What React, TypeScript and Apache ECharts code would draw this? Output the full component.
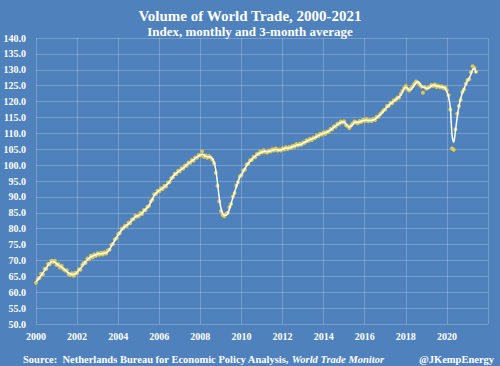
import React, { useEffect, useRef } from "react";
import * as echarts from "echarts";

const START_YEAR = 2000;

// Monthly index (yellow dots), Jan 2000 - Jun 2021
const monthlyIndex: number[] = [
  63.0, 64.2, 64.5, 65.8, 65.6, 67.4, 67.3, 68.9, 68.8, 69.9, 69.4, 69.9,
  68.6, 68.9, 67.8, 68.3, 67.2, 66.8, 66.9, 65.7, 65.4, 66.0, 65.2, 66.1,
  66.0, 67.2, 67.1, 68.6, 69.3, 69.2, 70.6, 70.4, 71.5, 71.0, 71.9, 71.5,
  72.3, 71.8, 72.4, 71.9, 72.6, 72.2, 73.2, 73.4, 74.9, 75.2, 76.6, 77.0,
  78.3, 78.6, 80.0, 80.1, 80.9, 80.8, 81.9, 81.7, 82.9, 83.0, 84.1, 83.8,
  84.0, 84.9, 84.6, 85.9, 85.8, 86.9, 87.1, 88.6, 89.1, 90.8, 90.9, 91.9,
  91.8, 92.7, 92.5, 93.5, 93.3, 94.5, 94.6, 95.9, 96.2, 97.3, 97.2, 98.2,
  98.1, 99.0, 98.9, 99.9, 99.8, 100.8, 100.7, 101.6, 101.4, 102.4, 102.3, 103.2,
  103.0, 104.3, 102.6, 103.1, 102.3, 102.9, 102.4, 101.7, 100.6, 97.6, 93.5, 88.6,
  85.5, 84.3, 83.9, 84.6, 85.0, 86.8, 87.8, 90.1, 91.2, 93.6, 94.6, 96.5,
  96.8, 98.3, 98.6, 100.2, 100.4, 101.5, 101.6, 102.6, 102.5, 103.5, 103.4, 104.3,
  104.0, 104.7, 104.1, 104.0, 104.6, 104.3, 105.0, 104.6, 105.2, 104.6, 104.9, 104.6,
  105.3, 104.9, 105.6, 105.1, 105.7, 105.4, 106.1, 105.8, 106.6, 106.2, 106.7, 106.4,
  107.1, 107.0, 107.8, 107.6, 108.3, 107.9, 108.7, 108.5, 109.3, 109.1, 109.9, 109.6,
  110.3, 109.9, 110.6, 110.5, 111.4, 111.2, 112.2, 112.1, 113.0, 112.9, 113.7, 113.4,
  113.8, 112.6, 112.2, 111.7, 112.5, 113.1, 113.7, 113.4, 113.2, 113.9, 113.6, 114.3,
  113.9, 114.5, 113.8, 114.2, 113.9, 114.5, 114.2, 115.2, 115.2, 116.1, 116.6, 117.3,
  117.5, 118.6, 118.6, 119.6, 119.5, 120.4, 120.4, 121.3, 121.2, 122.4, 123.3, 124.3,
  124.9, 123.9, 123.5, 124.1, 124.8, 125.6, 126.3, 126.0, 125.4, 124.7, 122.8, 124.6,
  124.0, 124.4, 124.7, 125.2, 124.9, 125.4, 124.6, 125.0, 124.5, 124.8, 124.2, 124.5,
  123.6, 122.0, 117.5, 105.2, 104.8, 111.3, 116.2, 118.6, 120.5, 123.0, 123.8, 125.6,
  126.8, 127.0, 129.2, 131.1, 130.6, 129.4,
];

// 3-month average (white line)
const avgIndex: number[] = [
  63.3, 63.9, 64.6, 65.3, 66.0, 66.8, 67.6, 68.4, 69.1, 69.6, 69.7, 69.5,
  69.0, 68.5, 68.2, 67.9, 67.5, 67.0, 66.5, 66.1, 65.8, 65.6, 65.6, 65.8,
  66.3, 66.9, 67.5, 68.2, 68.9, 69.6, 70.2, 70.7, 71.1, 71.4, 71.6, 71.8,
  72.0, 72.1, 72.1, 72.2, 72.3, 72.4, 72.8, 73.6, 74.5, 75.4, 76.3, 77.2,
  78.0, 78.8, 79.6, 80.2, 80.7, 81.1, 81.5, 82.0, 82.6, 83.2, 83.7, 84.0,
  84.2, 84.5, 84.9, 85.5, 86.1, 86.6, 87.3, 88.3, 89.4, 90.4, 91.1, 91.6,
  92.0, 92.4, 92.8, 93.2, 93.6, 94.1, 94.8, 95.6, 96.4, 97.0, 97.5, 97.9,
  98.3, 98.7, 99.1, 99.6, 100.1, 100.5, 100.9, 101.3, 101.7, 102.1, 102.5, 102.8,
  103.2, 103.4, 103.2, 102.8, 102.6, 102.6, 102.5, 102.0, 101.0, 98.5, 94.5, 89.8,
  86.5, 84.8, 84.2, 84.2, 84.8, 86.3, 88.0, 89.8, 91.5, 93.2, 94.8, 96.2,
  97.0, 97.9, 98.9, 99.8, 100.6, 101.2, 101.8, 102.3, 102.8, 103.2, 103.6, 103.9,
  104.1, 104.3, 104.4, 104.2, 104.3, 104.5, 104.7, 104.8, 104.9, 104.8, 104.7, 104.8,
  105.0, 105.2, 105.3, 105.3, 105.4, 105.6, 105.8, 106.0, 106.3, 106.4, 106.4, 106.6,
  106.9, 107.2, 107.5, 107.8, 108.0, 108.2, 108.4, 108.7, 109.0, 109.3, 109.6, 109.8,
  110.0, 110.2, 110.4, 110.7, 111.1, 111.5, 111.9, 112.3, 112.7, 113.1, 113.4, 113.6,
  113.5, 113.0, 112.4, 112.0, 112.2, 112.8, 113.4, 113.6, 113.5, 113.6, 113.8, 114.0,
  114.1, 114.2, 114.0, 114.0, 114.1, 114.2, 114.4, 114.9, 115.4, 115.8, 116.3, 117.0,
  117.7, 118.3, 118.8, 119.3, 119.7, 120.1, 120.6, 121.0, 121.4, 122.0, 123.0, 124.0,
  124.5, 124.2, 123.7, 123.8, 124.5, 125.3, 125.9, 126.2, 125.8, 125.0, 124.6, 124.4,
  124.2, 124.1, 124.5, 124.9, 125.1, 125.1, 124.9, 124.8, 124.7, 124.6, 124.5, 124.2,
  123.0, 121.5, 118.0, 109.5, 107.2, 110.8, 115.0, 118.4, 120.8, 122.7, 124.0, 125.3,
  126.5, 127.4, 128.5, 130.0, 130.4, 129.0,
];

const xTickYears = [2000, 2002, 2004, 2006, 2008, 2010, 2012, 2014, 2016, 2018, 2020];

const TITLE = "Volume of World Trade, 2000-2021";
const SUBTITLE = "Index, monthly and 3-month average";
const SOURCE_PLAIN = "Source:  Netherlands Bureau for Economic Policy Analysis, ";
const SOURCE_ITALIC = "World Trade Monitor";
const HANDLE = "@JKempEnergy";

const FONT = "'Liberation Serif', 'Times New Roman', serif";
const BG = "#4F81BD";

export default function App() {
  const ref = useRef<HTMLDivElement>(null);

  useEffect(() => {
    if (!ref.current) return;
    const chart = echarts.init(ref.current, null, { renderer: "svg" });
    const toX = (i: number) => START_YEAR + i / 12;
    const dots = monthlyIndex.map((v, i) => [toX(i), v]);
    const avg = avgIndex.map((v, i) => [toX(i), v]);

    chart.setOption({
      animation: false,
      backgroundColor: BG,
      title: [
        {
          text: TITLE,
          left: "center",
          top: 3,
          textStyle: { fontFamily: FONT, fontSize: 15, fontWeight: "bold", color: "#ffffff" },
        },
        {
          text: SUBTITLE,
          left: "center",
          top: 20,
          textStyle: { fontFamily: FONT, fontSize: 13, fontWeight: "bold", color: "#ffffff" },
        },
        {
          text: `{a|${SOURCE_PLAIN}}{b|${SOURCE_ITALIC}}`,
          left: 18,
          top: 349,
          textStyle: {
            rich: {
              a: { fontFamily: FONT, fontSize: 10.5, fontWeight: "bold", color: "#ffffff" },
              b: { fontFamily: FONT, fontSize: 10.5, fontWeight: "bold", fontStyle: "italic", color: "#ffffff" },
            },
          },
        },
        {
          text: HANDLE,
          left: 414,
          top: 349,
          textStyle: { fontFamily: FONT, fontSize: 10.5, fontWeight: "bold", color: "#ffffff" },
        },
      ],
      grid: { left: 36, right: 12, top: 38, bottom: 42 },
      xAxis: {
        type: "value",
        min: 2000,
        max: 2022,
        interval: 2,
        axisLine: { show: false },
        axisTick: { show: false },
        axisLabel: {
          color: "#ffffff",
          fontFamily: FONT,
          fontSize: 10,
          fontWeight: "bold",
          margin: 7,
          formatter: (v: number) => (xTickYears.includes(v) ? String(v) : ""),
        },
        splitLine: { show: true, lineStyle: { color: "rgba(255,255,255,0.22)", width: 1 } },
      },
      yAxis: {
        type: "value",
        min: 50,
        max: 140,
        interval: 5,
        axisLine: { show: false },
        axisTick: { show: false },
        axisLabel: {
          color: "#ffffff",
          fontFamily: FONT,
          fontSize: 10,
          fontWeight: "bold",
          margin: 10,
          formatter: (v: number) => v.toFixed(1),
        },
        splitLine: { show: true, lineStyle: { color: "rgba(255,255,255,0.22)", width: 1 } },
      },
      series: [
        {
          name: "Monthly",
          type: "scatter",
          data: dots,
          symbol: "circle",
          symbolSize: 4,
          itemStyle: { color: "#E8CF4A", opacity: 0.9 },
          z: 2,
        },
        {
          name: "3-month average",
          type: "line",
          data: avg,
          smooth: 0.3,
          showSymbol: false,
          lineStyle: { color: "#ffffff", width: 1.5 },
          z: 3,
        },
      ],
    });

    return () => chart.dispose();
  }, []);

  return (
    <div
      ref={ref}
      style={{ position: "fixed", left: 0, top: 0, width: 500, height: 366 }}
    />
  );
}
